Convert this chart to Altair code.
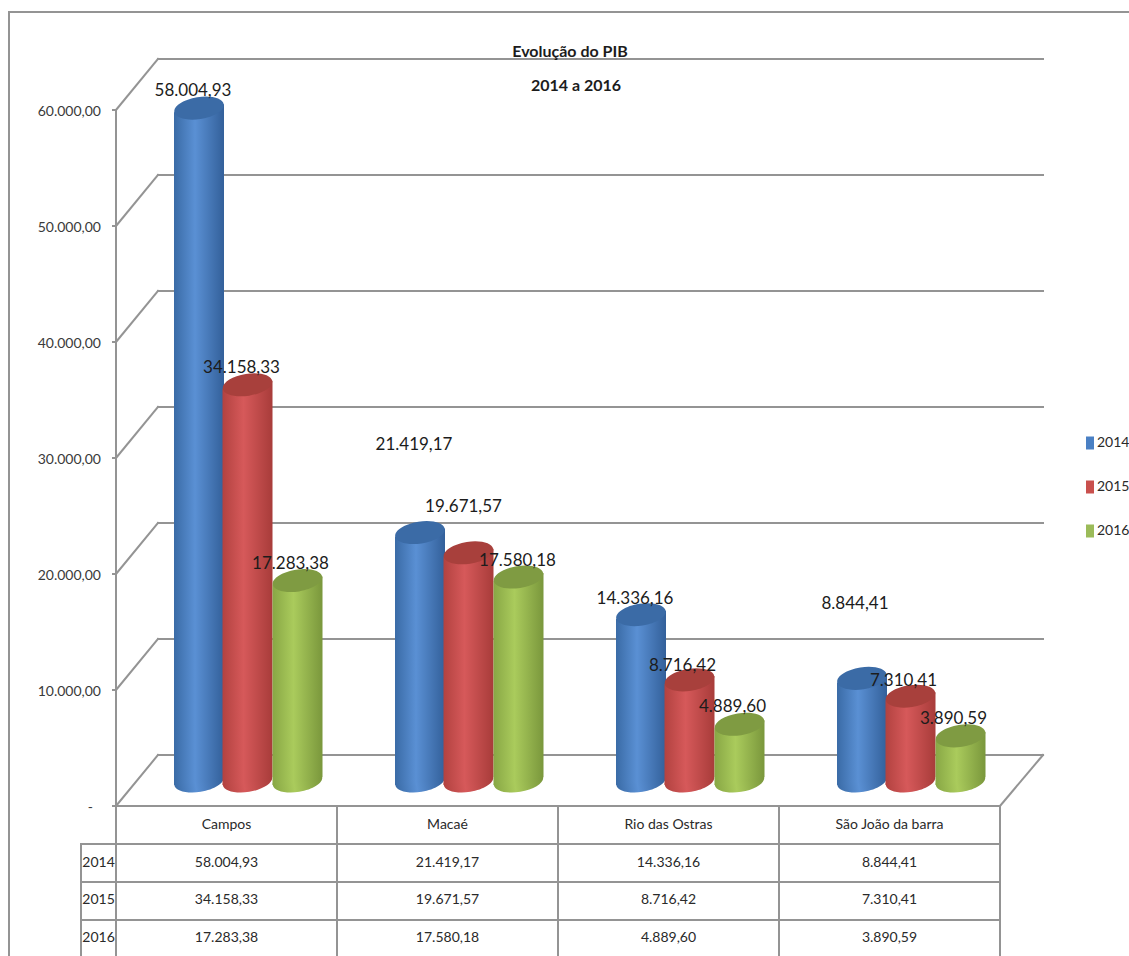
import altair as alt
import pandas as pd

categories = ["Campos", "Macaé", "Rio das Ostras", "São João da barra"]
years = ["2014", "2015", "2016"]
pib_2014 = [58004.93, 21419.17, 14336.16, 8844.41]
pib_2015 = [34158.33, 19671.57, 8716.42, 7310.41]
pib_2016 = [17283.38, 17580.18, 4889.60, 3890.59]
axis_ticks = [0, 10000, 20000, 30000, 40000, 50000, 60000]
series_values = dict(zip(years, [pib_2014, pib_2015, pib_2016]))

W, H = 1129, 956
FONT = "Lato"
CHROME = "#949494"
INK = "#1c1c1c"

# Scale geometry: one x unit is a municipality slot, y is in PIB units.
SLOT = 221.0
X0 = 116.0
FLOOR = 781.0
PX_PER_UNIT = 0.0116


def fmt_br(v):
    return f"{v:,.2f}".replace(",", "#").replace(".", ",").replace("#", ".")


def ux(px):
    return (px - X0) / SLOT


def uy(px):
    return (FLOOR - px) / PX_PER_UNIT


x_scale = alt.Scale(domain=[ux(0), ux(W)], range=[0, W], nice=False, zero=False)
y_scale = alt.Scale(domain=[uy(H), uy(0)], range=[H, 0], nice=False, zero=False)
X = lambda f: alt.X(f, type="quantitative", scale=x_scale, axis=None)
Y = lambda f: alt.Y(f, type="quantitative", scale=y_scale, axis=None)

# Wall, floor, data table and outer frame lines
FRONT_SHIFT = 25.0   # the front edge of the floor sits below the bars
BACK_SHIFT = 26.0    # the back wall sits above them
DEPTH_X = 42.0
segments = []


def seg(x1, y1, x2, y2):
    sid = len(segments) // 2
    segments.append({"id": sid, "x": ux(x1), "y": uy(y1)})
    segments.append({"id": sid, "x": ux(x2), "y": uy(y2)})


seg(9, 12, W, 12)
seg(9, 12, 9, H)
front_zero = FLOOR + FRONT_SHIFT
back_zero = FLOOR - BACK_SHIFT
for t in axis_ticks:
    dy = t * PX_PER_UNIT
    seg(X0 - 3, front_zero - dy, X0, front_zero - dy)
    seg(X0, front_zero - dy, X0 + DEPTH_X, back_zero - dy)
    seg(X0 + DEPTH_X, back_zero - dy, 1043, back_zero - dy)
seg(X0, front_zero - axis_ticks[-1] * PX_PER_UNIT, X0, front_zero)
seg(X0, front_zero, 1000, front_zero)
seg(1000, front_zero, 1043, back_zero)
for i in range(len(categories) + 1):
    seg(X0 + i * SLOT, front_zero, X0 + i * SLOT, H)
seg(81, 844, 81, H)
for ry in [844, 882, 920]:
    seg(81, ry, 1000, ry)

chrome = (
    alt.Chart(pd.DataFrame(segments))
    .mark_line(color=CHROME, strokeWidth=2, strokeCap="square")
    .encode(x=X("x"), y=Y("y"), detail="id:N", order="x:Q")
)

# Cylinders: a slanted gradient body between tilted ellipses
BAR_W = 50.0
SERIES_X = [83.0, 131.5, 181.5]
RY = 0.44
K = 0.5523
ELLIPSE = (
    f"M -1 0 C -1 {-K * RY} {-K} {-RY} 0 {-RY} C {K} {-RY} 1 {-K * RY} 1 0 "
    f"C 1 {K * RY} {K} {RY} 0 {RY} C {-K} {RY} -1 {K * RY} -1 0 Z"
)
TILT = 351
SLANT = 4.0 / PX_PER_UNIT  # rise across half a cylinder, in PIB units
palette = {
    "2014": ("#3a6ba6", "#5a90d4", "#33609a", "#3b6ba6"),
    "2015": ("#b24240", "#d6595a", "#a83c3a", "#a8403c"),
    "2016": ("#88a745", "#aacb5c", "#7a973c", "#7f9b42"),
}


def body_fill(edge, mid, far):
    return alt.Gradient(
        gradient="linear",
        x1=0, x2=1, y1=0, y2=0,
        stops=[
            alt.GradientStop(color=edge, offset=0),
            alt.GradientStop(color=mid, offset=0.42),
            alt.GradientStop(color=far, offset=1),
        ],
    )


layers = [chrome]
for s, year in enumerate(years):
    left, mid, right, top = palette[year]
    rows, body = [], []
    half = BAR_W / 2 / SLOT
    for i, v in enumerate(series_values[year]):
        c = i + SERIES_X[s] / SLOT
        rows.append({"c": c, "v": v, "base": 0.0})
        body.append({"cat": i, "x": c - half, "top": v - SLANT, "bot": -SLANT})
        body.append({"cat": i, "x": c + half, "top": v + SLANT, "bot": SLANT})
    df = pd.DataFrame(rows)
    fill = body_fill(left, mid, right)
    layers.append(
        alt.Chart(df)
        .mark_point(shape=ELLIPSE, filled=True, fill=fill, size=BAR_W**2, angle=TILT, opacity=1, strokeWidth=0)
        .encode(x=X("c"), y=Y("base"))
    )
    layers.append(
        alt.Chart(pd.DataFrame(body))
        .mark_area(fill=fill, strokeWidth=0, opacity=1)
        .encode(x=X("x"), y=Y("top"), y2="bot:Q", detail="cat:N")
    )
    layers.append(
        alt.Chart(df)
        .mark_point(shape=ELLIPSE, filled=True, fill=top, size=BAR_W**2, angle=TILT, opacity=1, strokeWidth=0)
        .encode(x=X("c"), y=Y("v"))
    )

# Value labels above each cylinder, some of them pulled clear by hand
label_nudge = {
    "2014": [(-6, 17), (-6, 88), (-6, 16), (-7, 74)],
    "2015": [(-6, 17), (-5, 46), (-7, 14), (-7, 15)],
    "2016": [(-7, 17), (-1, 16), (-7, 17), (-7, 17)],
}
value_rows = []
for s, year in enumerate(years):
    for i, v in enumerate(series_values[year]):
        dx, lift = label_nudge[year][i]
        value_rows.append(
            {
                "x": i + (SERIES_X[s] + dx) / SLOT,
                "y": v + lift / PX_PER_UNIT,
                "t": fmt_br(v),
            }
        )
layers.append(
    alt.Chart(pd.DataFrame(value_rows))
    .mark_text(font=FONT, fontSize=17, color=INK, align="center", baseline="middle")
    .encode(x=X("x"), y=Y("y"), text="t:N")
)

# Value axis labels
tick_rows = [
    {
        "x": ux(101 if t else 93),
        "y": uy(front_zero - t * PX_PER_UNIT + 2),
        "t": fmt_br(t) if t else "-",
    }
    for t in axis_ticks
]
layers.append(
    alt.Chart(pd.DataFrame(tick_rows))
    .mark_text(font=FONT, fontSize=14, color="#3a3a3a", align="right", baseline="middle")
    .encode(x=X("x"), y=Y("y"), text="t:N")
)

# Data table under the plot
table_rows = []
for i, cat in enumerate(categories):
    table_rows.append({"x": i + 0.5, "y": uy(825), "t": cat})
for r, year in enumerate(years):
    ry = [863, 900, 938][r]
    table_rows.append({"x": ux(98.5), "y": uy(ry), "t": year})
    for i, v in enumerate(series_values[year]):
        table_rows.append({"x": i + 0.5, "y": uy(ry), "t": fmt_br(v)})
layers.append(
    alt.Chart(pd.DataFrame(table_rows))
    .mark_text(font=FONT, fontSize=14, color="#2a2a2a", align="center", baseline="middle")
    .encode(x=X("x"), y=Y("y"), text="t:N")
)

# Two-line heading
title_rows = [
    {"x": ux(570), "y": uy(52), "t": "Evolução do PIB"},
    {"x": ux(576), "y": uy(86), "t": "2014 a 2016"},
]
layers.append(
    alt.Chart(pd.DataFrame(title_rows))
    .mark_text(font=FONT, fontSize=16, fontWeight="bold", color=INK, align="center", baseline="middle")
    .encode(x=X("x"), y=Y("y"), text="t:N")
)

# Legend comes from an invisible colour layer
legend_df = pd.DataFrame({"year": years, "x": [ux(1100)] * 3, "y": [uy(480)] * 3})
layers.append(
    alt.Chart(legend_df)
    .mark_point(filled=True, size=0, opacity=0)
    .encode(
        x=X("x"),
        y=Y("y"),
        color=alt.Color(
            "year:N",
            scale=alt.Scale(domain=years, range=["#4a80c4", "#c9504d", "#9bbb59"]),
            legend=alt.Legend(
                title=None,
                orient="none",
                legendX=1083,
                legendY=436,
                symbolType="M -0.8 -1.3 H 0.8 V 1.3 H -0.8 Z",
                symbolSize=100,
                symbolOpacity=1,
                symbolStrokeWidth=0,
                labelFont=FONT,
                labelFontSize=14,
                labelColor="#2a2a2a",
                labelOffset=0,
                rowPadding=30,
            ),
        ),
    )
)

chart = (
    alt.layer(*layers)
    .properties(
        width=W,
        height=H,
        padding=0,
        autosize=alt.AutoSizeParams(type="none"),
        background="#ffffff",
    )
    .configure_view(stroke=None)
)

chart.save("out.html", embed_options={"renderer": "svg", "actions": False})
